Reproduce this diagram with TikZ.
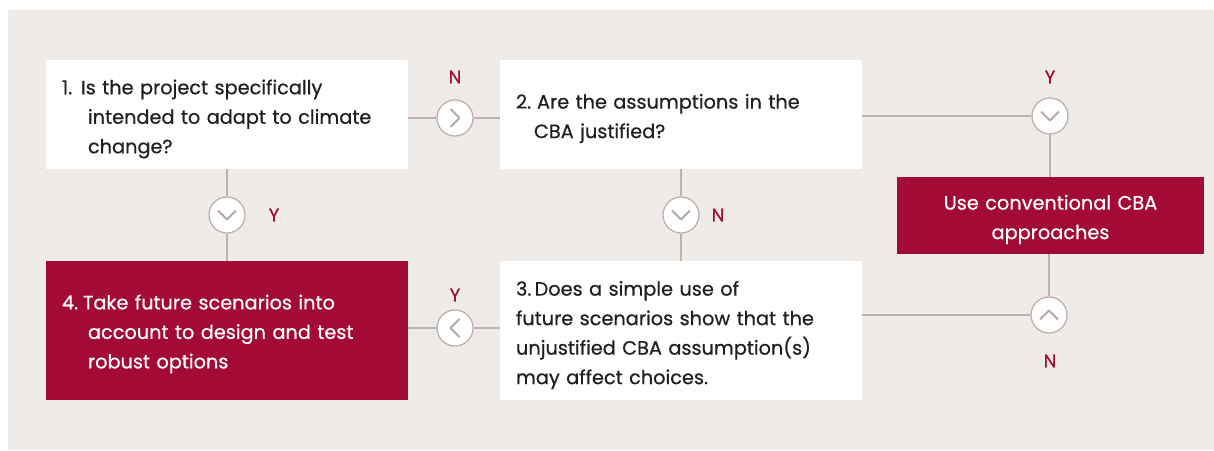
\documentclass[tikz,border=0pt]{standalone}
\usepackage{fontspec}
\setmainfont{Poppins}[FakeBold=0.6]
\newfontfamily\bookface{Poppins}[FakeBold=0.6]
\definecolor{bgc}{HTML}{EFEBE8}
\definecolor{wine}{HTML}{A30A35}
\definecolor{linec}{HTML}{BDB2AF}
\definecolor{chevc}{HTML}{B3A8A5}
\definecolor{ink}{HTML}{231F20}
\tikzset{
  qbox/.style={rectangle, fill=white, minimum width=362pt, inner sep=0pt},
  abox/.style={qbox, fill=wine},
  qtext/.style={text width=330pt, inner sep=0pt, align=left, text=ink,
    font=\bookface\fontsize{19.3}{29.5}\selectfont},
  atext/.style={qtext, text=white},
  conn/.style={draw=linec, line width=1.3pt},
  knob/.style={circle, draw=linec, fill=white, line width=1.3pt,
    minimum size=36pt, inner sep=0pt},
  yn/.style={text=wine, font=\bookface\fontsize{18}{18}\selectfont, inner sep=0pt},
  pics/chev/.style={code={
    \draw[chevc, line width=2pt, line join=round] (-9,-4.5) -- (0,4.5) -- (9,-4.5);}}
}
\newcommand{\lead}[2]{\makebox[#1][l]{#2}}
\begin{document}
\begin{tikzpicture}[x=1pt,y=-1pt]
\useasboundingbox (0,0) rectangle (1214,450);
\fill[bgc] (8,10) rectangle (1214,450);

% question and action boxes
\node[qbox, minimum height=109pt] (q1) at (227,114.5) {};
\node[qbox, minimum height=109pt] (q2) at (681,114.5) {};
\node[abox, minimum width=307pt, minimum height=77pt] (cba) at (1050.5,215.5) {};
\node[abox, minimum height=139pt] (q4) at (227,330.5) {};
\node[qbox, minimum height=139pt] (q3) at (681,330.5) {};

% box texts, set a little below centre
\node[qtext] (t1) at ([yshift=-4.5pt]q1.center)
  {\lead{19pt}{1.}Is the project specifically\\\hspace*{26pt}intended to adapt to climate\\\hspace*{26pt}change?};
\node[qtext] (t2) at ([yshift=-4pt]q2.center)
  {\lead{21pt}{2.}Are the assumptions in the\\\hspace*{18pt}CBA justified?};
\node[atext, text width=290pt, align=center] (tc) at ([yshift=-4pt]cba.center)
  {Use conventional CBA\\approaches};
\node[qtext, text=white] (t4) at ([yshift=-3.5pt]q4.center)
  {\lead{21pt}{4.}Take future scenarios into\\\hspace*{26pt}account to design and test\\\hspace*{26pt}robust options};
\node[qtext] (t3) at ([yshift=-4.5pt]q3.center)
  {3.\,Does a simple use of\\future scenarios show that the\\unjustified CBA assumption(s)\\may affect choices.};

% decision knobs
\node[knob] (k1) at (455,118) {};
\node[knob] (k2) at (1050,116) {};
\node[knob] (k3) at (227,215) {};
\node[knob] (k4) at (681,215) {};
\node[knob] (k5) at (455,328) {};
\node[knob] (k6) at (1049,315) {};

% connectors
\draw[conn] (k1 -| q1.east) -- (k1) -- (k1 -| q2.west);
\draw[conn] (k2 -| q2.east) -- (k2) -- (k2 |- cba.north);
\draw[conn] (k3 |- q1.south) -- (k3) -- (k3 |- q4.north);
\draw[conn] (k4 |- q2.south) -- (k4) -- (k4 |- q3.north);
\draw[conn] (k5 -| q4.east) -- (k5) -- (k5 -| q3.west);
\draw[conn] (k6 |- cba.south) -- (k6) -- (k6 -| q3.east);

% chevrons
\pic[rotate=90] at (k1) {chev};
\pic at (k2) {chev};
\pic at (k3) {chev};
\pic at (k4) {chev};
\pic[rotate=-90] at (k5) {chev};
\pic[rotate=180] at (k6) {chev};

% answer labels
\node[yn] (l1) at (455,77) {N};
\node[yn] (l2) at (1050,77) {Y};
\node[yn] (l3) at (274,215) {Y};
\node[yn] (l4) at (718,215) {N};
\node[yn] (l5) at (455,295) {Y};
\node[yn] (l6) at (1050,361) {N};
\end{tikzpicture}
\end{document}
